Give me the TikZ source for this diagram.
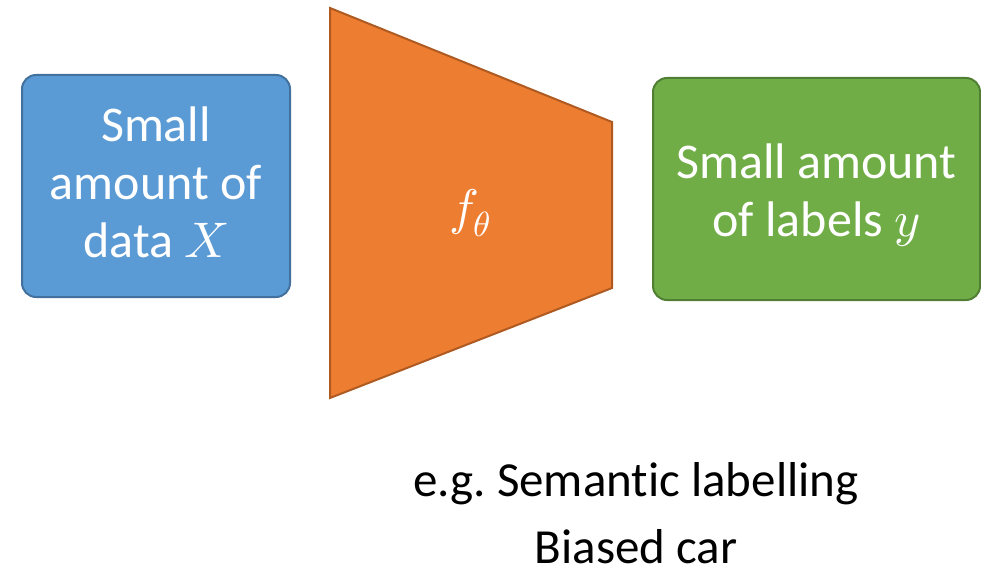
\documentclass[tikz,border=0pt]{standalone}
\usepackage{fontspec}
\usepackage{unicode-math}
\setmainfont{Carlito}[Ligatures=NoCommon]
\setmathfont{Latin Modern Math}
\frenchspacing
\definecolor{bluefill}{HTML}{5B9BD5}
\definecolor{blueline}{HTML}{41719C}
\definecolor{orangefill}{HTML}{ED7D31}
\definecolor{orangeline}{HTML}{AE5A21}
\definecolor{greenfill}{HTML}{70AD47}
\definecolor{greenline}{HTML}{507E32}
\begin{document}
\begin{tikzpicture}[x=1pt,y=1pt,
  box/.style={rectangle, rounded corners=14pt, line width=2pt, inner sep=0pt},
  boxtext/.style={text=white, align=center, inner sep=0pt, text depth=0pt,
    font=\fontsize{50}{58}\selectfont},
  note/.style={align=center, inner sep=0pt, text depth=0pt,
    font=\fontsize{49}{67}\selectfont, text=black}]
\useasboundingbox (0,0) rectangle (981,-569);
\node[box, draw=blueline, fill=bluefill, minimum width=268pt, minimum height=222pt] (data) at (156,-186) {};
\node[boxtext, anchor=south] (datatext) at (156,-258) {Small\\amount of\\data $X$};
\node[box, draw=greenline, fill=greenfill, minimum width=327pt, minimum height=222pt] (labels) at (816.5,-189) {};
\node[boxtext, anchor=south] (labeltext) at (816.5,-237) {Small amount\\of labels $y$};
\coordinate (tl) at (330,-8);
\coordinate (bl) at (330,-398);
\coordinate (tr) at (612,-122);
\coordinate (br) at (612,-288);
\draw[fill=orangefill, draw=orangeline, line width=2pt] (tl) -- (tr) -- (br) -- (bl) -- cycle;
\node[text=white, inner sep=0pt, font=\fontsize{50}{58}\selectfont] (f) at (470,-213) {$f_\theta$};
\node[note, anchor=south] (ex) at (636,-564) {e.g. Semantic labelling\\Biased car};
\end{tikzpicture}
\end{document}
